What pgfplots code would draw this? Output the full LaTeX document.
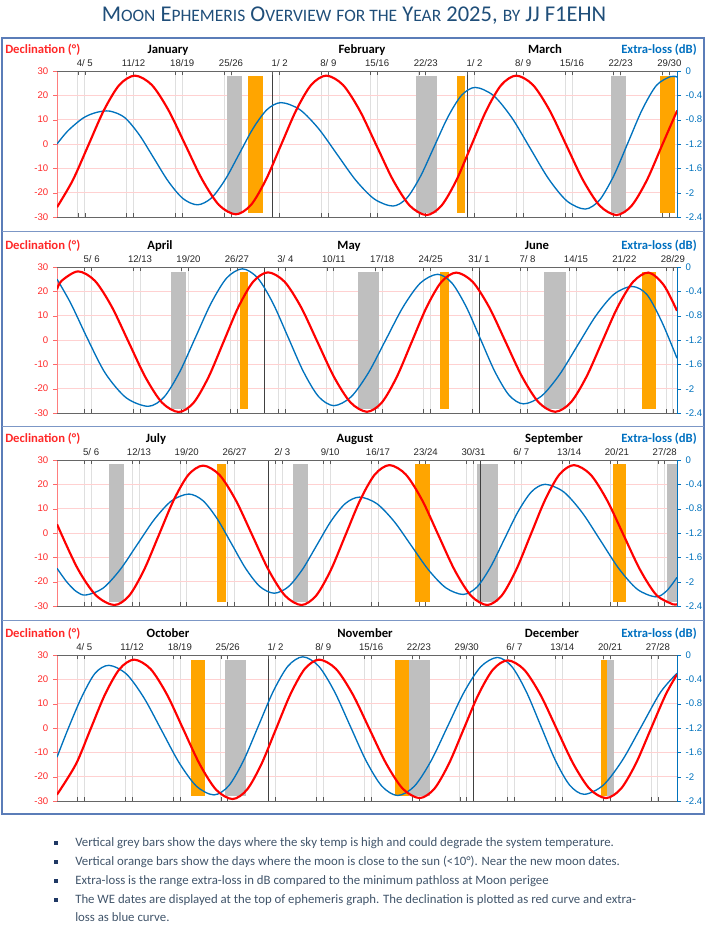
\documentclass[border=0pt]{standalone}
\usepackage{pgfplots}
\pgfplotsset{compat=1.18}
\usepackage{fontspec}
\setmainfont{Carlito}
\newfontfamily\arialf{Liberation Sans}
\definecolor{declred}{RGB}{255,40,40}
\definecolor{curvered}{RGB}{255,0,0}
\definecolor{lossblue}{RGB}{0,114,189}
\definecolor{labblue}{RGB}{0,112,192}
\definecolor{barorange}{RGB}{255,165,0}
\definecolor{bargrey}{RGB}{191,191,191}
\definecolor{titleblue}{RGB}{31,78,121}
\definecolor{framecol}{RGB}{91,125,184}
\definecolor{txtcol}{RGB}{64,84,106}
\definecolor{bulletcol}{RGB}{31,56,100}
\newcommand{\tickf}{\arialf\fontsize{7.2}{8}\selectfont}
\newcommand{\monthf}{\fontsize{9.5}{11}\selectfont\bfseries}
\newcommand{\tsc}[1]{{\fontsize{13.1}{16}\selectfont #1}}
\pgfplotsset{
  mainax/.style={scale only axis, width=465pt, height=109.5pt, xmin=0, ymin=-30, ymax=30,
    anchor=south west,
    axis y line*=left, axis x line*=bottom,
    ytick={-30,-20,-10,0,10,20,30},
    yticklabels={-30,-20,-10,0,10,20,30},
    yticklabel style={text=declred, font=\tickf},
    y axis line style={draw=declred!60},
    x axis line style={draw=black!60},
    xticklabels={},
    xmajorgrids, ymajorgrids,
    x grid style={gray!25, line width=0.6pt},
    y grid style={red!18, line width=0.5pt},
    xtick align=inside, ytick align=outside,
    major tick length=3pt,
    x tick style={black!65, line width=0.5pt},
    y tick style={declred!70},
  },
  rightax/.style={scale only axis, width=465pt, height=109.5pt, xmin=0, ymin=-2.4, ymax=0,
    anchor=south west,
    axis y line*=right, axis x line*=top,
    ytick={-2.4,-2,-1.6,-1.2,-0.8,-0.4,0},
    yticklabels={-2.4,-2,-1.6,-1.2,-0.8,-0.4,0},
    yticklabel style={text=lossblue, font=\tickf},
    y axis line style={draw=lossblue},
    x axis line style={draw=black!60},
    xticklabels={},
    xticklabel style={font=\tickf, text=black!85},
    xtick align=inside, ytick align=outside,
    major tick length=3pt,
    x tick style={black!65, line width=0.5pt},
    y tick style={lossblue},
    extra x tick style={major tick length=0pt, tick style={draw=none}},
  },
  bluec/.style={lossblue, line width=1pt, smooth, y filter/.expression={30+25*y}},
  redc/.style={curvered, line width=1.6pt, smooth},
  greybar/.style={fill=bargrey, draw=none},
  orbar/.style={fill=barorange, draw=none},
  monthline/.style={black!75, line width=0.6pt},
}
\begin{document}
\begin{tikzpicture}
\path[use as bounding box] (0,0) rectangle (531pt,695.25pt);

% ================= Panel 1: Jan - Mar =================
\begin{axis}[mainax, at={(42.75pt,532.5pt)}, xmax=89.1,
  xtick={3,4,10,11,17,18,24,25,31,32,38,39,45,46,52,53,59,60,66,67,73,74,80,81,87,88}]
\addplot[greybar] coordinates {(24.5,-28.2)(24.5,28.1)(26.6,28.1)(26.6,-28.2)};
\addplot[orbar] coordinates {(27.5,-28.2)(27.5,28.1)(29.6,28.1)(29.6,-28.2)};
\addplot[greybar] coordinates {(51.6,-28.2)(51.6,28.1)(54.6,28.1)(54.6,-28.2)};
\addplot[orbar] coordinates {(57.5,-28.2)(57.5,28.1)(58.7,28.1)(58.7,-28.2)};
\addplot[greybar] coordinates {(79.6,-28.2)(79.6,28.1)(81.8,28.1)(81.8,-28.2)};
\addplot[orbar] coordinates {(86.6,-28.2)(86.6,28.1)(88.8,28.1)(88.8,-28.2)};
\addplot[monthline] coordinates {(31,-30)(31,30)};
\addplot[monthline] coordinates {(59,-30)(59,30)};
\addplot[bluec] coordinates {(0,-1.2)(1.6,-0.98)(3.8,-0.77)(5.7,-0.68)(7.6,-0.66)(9.7,-0.763)(11.8,-1.045)(13.9,-1.43)(16.0,-1.815)(18.1,-2.097)(20.2,-2.2)(22.2,-2.087)(24.2,-1.78)(26.2,-1.36)(28.2,-0.94)(30.2,-0.633)(32.2,-0.52)(34.88,-0.634)(37.57,-0.945)(40.25,-1.37)(42.93,-1.795)(45.62,-2.106)(48.3,-2.22)(50.27,-2.089)(52.23,-1.733)(54.2,-1.245)(56.17,-0.758)(58.13,-0.401)(60.1,-0.27)(62.73,-0.404)(65.37,-0.77)(68.0,-1.27)(70.63,-1.77)(73.27,-2.136)(75.9,-2.27)(77.95,-2.124)(80.0,-1.725)(82.05,-1.18)(84.1,-0.635)(86.15,-0.236)(88.2,-0.09)(89.1,-0.1)};
\addplot[redc] coordinates {(0,-26.0)(2.27,-14.9)(4.5,-0.55)(6.73,13.8)(8.97,24.3)(11.2,28.1)(13.62,24.28)(16.03,13.85)(18.45,-0.4)(20.87,-14.65)(23.28,-25.08)(25.7,-28.9)(27.87,-25.08)(30.03,-14.65)(32.2,-0.4)(34.37,13.85)(36.53,24.28)(38.7,28.1)(41.1,24.26)(43.5,13.78)(45.9,-0.55)(48.3,-14.88)(50.7,-25.36)(53.1,-29.2)(55.25,-25.36)(57.4,-14.88)(59.55,-0.55)(61.7,13.78)(63.85,24.26)(66.0,28.1)(68.4,24.26)(70.8,13.78)(73.2,-0.55)(75.6,-14.88)(78.0,-25.36)(80.4,-29.2)(82.58,-25.36)(84.77,-14.88)(86.95,-0.55)(89.13,13.78)};
\end{axis}
\begin{axis}[rightax, at={(42.75pt,532.5pt)}, xmax=89.1,
  xtick={3,4,10,11,17,18,24,25,31,32,38,39,45,46,52,53,59,60,66,67,73,74,80,81,87,88},
  extra x ticks={4,11,18,25,32,39,46,53,60,67,74,81,88},
  extra x tick labels={{4/ 5},{11/12},{18/19},{25/26},{1/ 2},{8/ 9},{15/16},{22/23},{1/ 2},{8/ 9},{15/16},{22/23},{29/30}}]
\end{axis}

% ================= Panel 2: Apr - Jun =================
\begin{axis}[mainax, at={(42.75pt,385.5pt)}, xmax=89.6,
  xtick={4,5,11,12,18,19,25,26,32,33,39,40,46,47,53,54,60,61,67,68,74,75,81,82,88,89}]
\addplot[greybar] coordinates {(16.5,-28.4)(16.5,28.1)(18.6,28.1)(18.6,-28.4)};
\addplot[orbar] coordinates {(26.4,-28.4)(26.4,28.1)(27.6,28.1)(27.6,-28.4)};
\addplot[greybar] coordinates {(43.5,-28.4)(43.5,28.1)(46.6,28.1)(46.6,-28.4)};
\addplot[orbar] coordinates {(55.4,-28.4)(55.4,28.1)(56.6,28.1)(56.6,-28.4)};
\addplot[greybar] coordinates {(70.4,-28.4)(70.4,28.1)(73.6,28.1)(73.6,-28.4)};
\addplot[orbar] coordinates {(84.5,-28.4)(84.5,28.1)(86.6,28.1)(86.6,-28.4)};
\addplot[monthline] coordinates {(30,-30)(30,30)};
\addplot[monthline] coordinates {(61,-30)(61,30)};
\addplot[bluec] coordinates {(0,-0.2)(2,-0.6)(4.5,-1.2)(7,-1.75)(10,-2.15)(13.2,-2.29)(15.47,-2.139)(17.73,-1.725)(20.0,-1.16)(22.27,-0.595)(24.53,-0.18)(26.8,-0.03)(29.0,-0.181)(31.2,-0.593)(33.4,-1.155)(35.6,-1.718)(37.8,-2.13)(40.0,-2.28)(42.5,-2.135)(45.0,-1.74)(47.5,-1.2)(50.0,-0.66)(52.5,-0.265)(55.0,-0.12)(57.07,-0.263)(59.13,-0.653)(61.2,-1.185)(63.27,-1.718)(65.33,-2.107)(67.4,-2.25)(70.02,-2.121)(72.63,-1.768)(75.25,-1.285)(77.87,-0.803)(80.48,-0.449)(83.1,-0.32)(85.25,-0.453)(87.4,-0.9)(89.6,-1.5)};
\addplot[redc] coordinates {(0,20.8)(0.67,24.33)(3.05,28.2)(5.475,24.33)(7.9,13.75)(10.325,-0.7)(12.75,-15.15)(15.175,-25.73)(17.6,-29.6)(19.75,-25.75)(21.9,-15.25)(24.05,-0.9)(26.2,13.45)(28.35,23.95)(30.5,27.8)(32.88,23.96)(35.27,13.48)(37.65,-0.85)(40.03,-15.18)(42.42,-25.66)(44.8,-29.5)(46.95,-25.67)(49.1,-15.2)(51.25,-0.9)(53.4,13.4)(55.55,23.87)(57.7,27.7)(60.08,23.87)(62.47,13.4)(64.85,-0.9)(67.23,-15.2)(69.62,-25.67)(72.0,-29.5)(74.25,-25.67)(76.5,-15.2)(78.75,-0.9)(81.0,13.4)(83.25,23.87)(85.5,27.7)(87.7,22.5)(89.6,12)};
\end{axis}
\begin{axis}[rightax, at={(42.75pt,385.5pt)}, xmax=89.6,
  xtick={4,5,11,12,18,19,25,26,32,33,39,40,46,47,53,54,60,61,67,68,74,75,81,82,88,89},
  extra x ticks={5,12,19,26,33,40,47,54,61,68,75,82,89},
  extra x tick labels={{5/ 6},{12/13},{19/20},{26/27},{3/ 4},{10/11},{17/18},{24/25},{31/ 1},{7/ 8},{14/15},{21/22},{28/29}}]
\end{axis}

% ================= Panel 3: Jul - Sep =================
\begin{axis}[mainax, at={(42.75pt,240.75pt)}, xmax=90.8,
  xtick={4,5,11,12,18,19,25,26,32,33,39,40,46,47,53,54,60,61,67,68,74,75,81,82,88,89}]
\addplot[greybar] coordinates {(7.6,-28.2)(7.6,28.2)(9.75,28.2)(9.75,-28.2)};
\addplot[orbar] coordinates {(23.5,-28.2)(23.5,28.2)(24.7,28.2)(24.7,-28.2)};
\addplot[greybar] coordinates {(34.5,-28.2)(34.5,28.2)(36.7,28.2)(36.7,-28.2)};
\addplot[orbar] coordinates {(52.4,-28.2)(52.4,28.2)(54.6,28.2)(54.6,-28.2)};
\addplot[greybar] coordinates {(61.5,-28.2)(61.5,28.2)(64.6,28.2)(64.6,-28.2)};
\addplot[orbar] coordinates {(81.4,-28.2)(81.4,28.2)(83.4,28.2)(83.4,-28.2)};
\addplot[greybar] coordinates {(89.3,-28.2)(89.3,28.2)(90.8,28.2)(90.8,-28.2)};
\addplot[monthline] coordinates {(31,-30)(31,30)};
\addplot[monthline] coordinates {(62,-30)(62,30)};
\addplot[bluec] coordinates {(0,-1.78)(1.4,-2.0)(2.8,-2.16)(4.2,-2.22)(6.72,-2.109)(9.23,-1.805)(11.75,-1.39)(14.27,-0.975)(16.78,-0.671)(19.3,-0.56)(21.38,-0.669)(23.47,-0.968)(25.55,-1.375)(27.63,-1.783)(29.72,-2.081)(31.8,-2.19)(33.88,-2.084)(35.97,-1.795)(38.05,-1.4)(40.13,-1.005)(42.22,-0.716)(44.3,-0.61)(46.83,-0.717)(49.37,-1.01)(51.9,-1.41)(54.43,-1.81)(56.97,-2.103)(59.5,-2.21)(61.5,-2.089)(63.5,-1.758)(65.5,-1.305)(67.5,-0.853)(69.5,-0.521)(71.5,-0.40)(74.2,-0.524)(76.9,-0.863)(79.6,-1.325)(82.3,-1.788)(85.0,-2.126)(87.7,-2.25)(89.3,-2.15)(90.8,-1.93)};
\addplot[redc] coordinates {(0,3.6)(3.0,-14.5)(5.7,-25.6)(8.4,-29.6)(10.57,-25.76)(12.73,-15.28)(14.9,-0.95)(17.07,13.38)(19.23,23.86)(21.4,27.7)(23.8,23.86)(26.2,13.38)(28.6,-0.95)(31.0,-15.28)(33.4,-25.76)(35.8,-29.6)(37.95,-25.75)(40.1,-15.23)(42.25,-0.85)(44.4,13.53)(46.55,24.05)(48.7,27.9)(51.08,24.05)(53.47,13.53)(55.85,-0.85)(58.23,-15.23)(60.62,-25.75)(63.0,-29.6)(65.12,-25.75)(67.23,-15.23)(69.35,-0.85)(71.47,13.53)(73.58,24.05)(75.7,27.9)(78.12,24.07)(80.53,13.6)(82.95,-0.7)(85.37,-15.0)(87.78,-25.47)(90.2,-29.3)(90.8,-29.2)};
\end{axis}
\begin{axis}[rightax, at={(42.75pt,240.75pt)}, xmax=90.8,
  xtick={4,5,11,12,18,19,25,26,32,33,39,40,46,47,53,54,60,61,67,68,74,75,81,82,88,89},
  extra x ticks={5,12,19,26,33,40,47,54,61,68,75,82,89},
  extra x tick labels={{5/ 6},{12/13},{19/20},{26/27},{2/ 3},{9/10},{16/17},{23/24},{30/31},{6/ 7},{13/14},{20/21},{27/28}}]
\end{axis}

% ================= Panel 4: Oct - Dec =================
\begin{axis}[mainax, at={(42.75pt,94.5pt)}, xmax=90.8,
  xtick={3,4,10,11,17,18,24,25,31,32,38,39,45,46,52,53,59,60,66,67,73,74,80,81,87,88}]
\addplot[orbar] coordinates {(19.6,-28.0)(19.6,28.1)(21.7,28.1)(21.7,-28.0)};
\addplot[greybar] coordinates {(24.6,-28.0)(24.6,28.1)(27.7,28.1)(27.7,-28.0)};
\addplot[orbar] coordinates {(49.5,-28.0)(49.5,28.1)(51.5,28.1)(51.5,-28.0)};
\addplot[greybar] coordinates {(51.5,-28.0)(51.5,28.1)(54.6,28.1)(54.6,-28.0)};
\addplot[orbar] coordinates {(79.6,-28.0)(79.6,28.1)(80.5,28.1)(80.5,-28.0)};
\addplot[greybar] coordinates {(80.5,-28.0)(80.5,28.1)(81.6,28.1)(81.6,-28.0)};
\addplot[monthline] coordinates {(31,-30)(31,30)};
\addplot[monthline] coordinates {(61,-30)(61,30)};
\addplot[bluec] coordinates {(0,-1.68)(1.55,-1.235)(3.57,-0.703)(5.58,-0.30)(7.6,-0.17)(10.17,-0.313)(12.73,-0.703)(15.3,-1.235)(17.87,-1.768)(20.43,-2.157)(23.0,-2.30)(25.17,-2.148)(27.33,-1.733)(29.5,-1.165)(31.67,-0.598)(33.83,-0.182)(36.0,-0.03)(38.32,-0.183)(40.63,-0.6)(42.95,-1.17)(45.27,-1.74)(47.58,-2.157)(49.9,-2.31)(52.33,-2.158)(54.77,-1.743)(57.2,-1.175)(59.63,-0.608)(62.07,-0.192)(64.5,-0.04)(66.62,-0.191)(68.73,-0.603)(70.85,-1.165)(72.97,-1.728)(75.08,-2.139)(77.2,-2.29)(80.0,-2.14)(82.8,-1.73)(85.6,-1.17)(88.4,-0.61)(90.8,-0.30)};
\addplot[redc] coordinates {(0,-27.4)(2.77,-14.88)(4.9,-0.55)(7.03,13.78)(9.17,24.26)(11.3,28.1)(13.7,24.26)(16.1,13.78)(18.5,-0.55)(20.9,-14.88)(23.3,-25.36)(25.7,-29.2)(27.82,-25.36)(29.93,-14.88)(32.05,-0.55)(34.17,13.78)(36.28,24.26)(38.4,28.1)(40.85,24.29)(43.3,13.88)(45.75,-0.35)(48.2,-14.58)(50.65,-24.99)(53.1,-28.8)(55.25,-25.01)(57.4,-14.65)(59.55,-0.5)(61.7,13.65)(63.85,24.01)(66.0,27.8)(68.4,24.01)(70.8,13.65)(73.2,-0.5)(75.6,-14.65)(78.0,-25.01)(80.4,-28.8)(82.58,-25.01)(84.77,-14.65)(86.95,-0.5)(89.13,13.65)(90.8,22.0)};
\end{axis}
\begin{axis}[rightax, at={(42.75pt,94.5pt)}, xmax=90.8,
  xtick={3,4,10,11,17,18,24,25,31,32,38,39,45,46,52,53,59,60,66,67,73,74,80,81,87,88},
  extra x ticks={4,11,18,25,32,39,46,53,60,67,74,81,88},
  extra x tick labels={{4/ 5},{11/12},{18/19},{25/26},{1/ 2},{8/ 9},{15/16},{22/23},{29/30},{6/ 7},{13/14},{20/21},{27/28}}]
\end{axis}

% ================= decorations (px units) =================
\begin{scope}[x=0.75pt,y=0.75pt]
\draw[framecol, line width=0.9pt] (2,113) rectangle (704,889);
\draw[framecol!80, line width=0.7pt] (2,695.5) -- (704,695.5);
\draw[framecol!80, line width=0.7pt] (2,501) -- (704,501);
\draw[framecol!80, line width=0.7pt] (2,306.5) -- (704,306.5);

\node[text=titleblue, font=\fontsize{16.9}{20}\selectfont, inner sep=0] at (354,911)
  {M\tsc{OON} E\tsc{PHEMERIS} O\tsc{VERVIEW} \tsc{FOR THE} Y\tsc{EAR} 2025, \tsc{BY} JJ F1EHN};

\foreach \yb/\ma/\mb/\mc/\xa/\xb/\xc in {873.5/January/February/March/168/362/545,
    677.5/April/May/June/160/349/537,
    484.5/July/August/September/156/355/554,
    289.5/October/November/December/168/365/552}{
  \node[anchor=base west, inner sep=0, text=declred, font=\monthf] at (5,\yb) {Declination (°)};
  \node[anchor=base east, inner sep=0, text=labblue, font=\monthf] at (697,\yb) {Extra-loss (dB)};
  \node[anchor=base, inner sep=0, font=\monthf] at (\xa,\yb) {\ma};
  \node[anchor=base, inner sep=0, font=\monthf] at (\xb,\yb) {\mb};
  \node[anchor=base, inner sep=0, font=\monthf] at (\xc,\yb) {\mc};
}

\foreach \yc in {84,65,46,27}{
  \fill[bulletcol] (54,\yc-2) rectangle (58,\yc+2);
}
\begin{scope}[every node/.style={anchor=base west, inner sep=0, text=txtcol, font=\fontsize{9.6}{11}\selectfont}]
\node at (75,80.5) {Vertical grey bars show the days where the sky temp is high and could degrade the system temperature.};
\node at (75,61.5) {Vertical orange bars show the days where the moon is close to the sun (<10°). Near the new moon dates.};
\node at (75,42.5) {Extra-loss is the range extra-loss in dB compared to the minimum pathloss at Moon perigee};
\node at (75,23.5) {The WE dates are displayed at the top of ephemeris graph. The declination is plotted as red curve and extra-};
\node at (75,5.5) {loss as blue curve.};
\end{scope}
\end{scope}
\end{tikzpicture}
\end{document}
